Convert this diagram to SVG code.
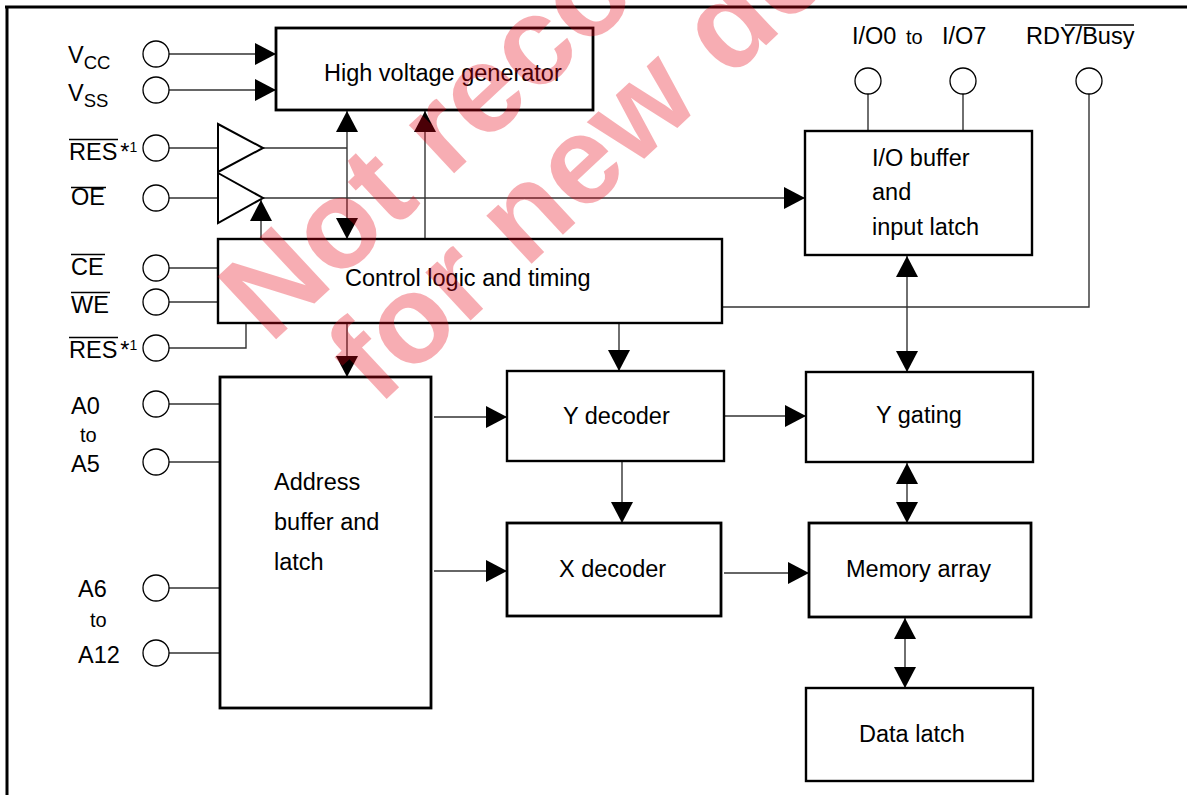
<svg xmlns="http://www.w3.org/2000/svg" width="1187" height="795" viewBox="0 0 1187 795">
<style>
.box{fill:#fff;stroke:#000;stroke-width:2.4}
.thick{stroke-width:2.8}
.thin{fill:#fff;stroke:#000;stroke-width:2}
.pin{fill:#fff;stroke:#000;stroke-width:1.3}
.w{fill:none;stroke:#333;stroke-width:1.4}
.t{font-family:"Liberation Sans",Arial,sans-serif;font-size:23.5px;fill:#000}
.s{font-size:18.5px}
.small{font-size:20px}
.ov{stroke:#000;stroke-width:1.4}
.wm{font-family:"Liberation Sans",Arial,sans-serif;font-weight:bold;font-size:125px;fill:#e60012;fill-opacity:0.32}
</style>
<defs>
<marker id="ah" markerUnits="userSpaceOnUse" markerWidth="22" markerHeight="22" refX="21" refY="11" orient="auto-start-reverse" viewBox="0 0 22 22">
<path d="M0,0 L21,11 L0,22 z" fill="#000"/>
</marker>
</defs>
<g id="frame">
<line x1="5" y1="7" x2="1187" y2="7" stroke="#000" stroke-width="3"/>
<line x1="7" y1="6" x2="7" y2="795" stroke="#000" stroke-width="3"/>
</g>
<g id="connectors">
<line class="w" x1="169" y1="54" x2="276" y2="54" marker-end="url(#ah)"/>
<line class="w" x1="169" y1="90" x2="276" y2="90" marker-end="url(#ah)"/>
<line class="w" x1="169" y1="148" x2="218" y2="148"/>
<line class="w" x1="169" y1="198" x2="218" y2="198"/>
<line class="w" x1="263" y1="148" x2="347" y2="148"/>
<line class="w" x1="347" y1="111" x2="347" y2="239" marker-start="url(#ah)" marker-end="url(#ah)"/>
<line class="w" x1="263" y1="198" x2="805" y2="198" marker-end="url(#ah)"/>
<line class="w" x1="261" y1="239" x2="261" y2="200" marker-end="url(#ah)"/>
<line class="w" x1="425" y1="239" x2="425" y2="111" marker-end="url(#ah)"/>
<line class="w" x1="169" y1="268" x2="218" y2="268"/>
<line class="w" x1="169" y1="302" x2="218" y2="302"/>
<polyline class="w" points="169,348 246,348 246,323"/>
<line class="w" x1="347" y1="323" x2="347" y2="377" marker-end="url(#ah)"/>
<line class="w" x1="619" y1="323" x2="619" y2="371" marker-end="url(#ah)"/>
<polyline class="w" points="1089,94 1089,307 722,307"/>
<line class="w" x1="868" y1="94" x2="868" y2="131"/>
<line class="w" x1="963" y1="94" x2="963" y2="131"/>
<line class="w" x1="907" y1="256" x2="907" y2="372" marker-start="url(#ah)" marker-end="url(#ah)"/>
<line class="w" x1="169" y1="404" x2="220" y2="404"/>
<line class="w" x1="169" y1="462" x2="220" y2="462"/>
<line class="w" x1="169" y1="588" x2="220" y2="588"/>
<line class="w" x1="169" y1="653" x2="220" y2="653"/>
<line class="w" x1="434" y1="417" x2="507" y2="417" marker-end="url(#ah)"/>
<line class="w" x1="434" y1="571" x2="507" y2="571" marker-end="url(#ah)"/>
<line class="w" x1="622" y1="461" x2="622" y2="523" marker-end="url(#ah)"/>
<line class="w" x1="724" y1="416" x2="806" y2="416" marker-end="url(#ah)"/>
<line class="w" x1="724" y1="573" x2="809" y2="573" marker-end="url(#ah)"/>
<line class="w" x1="907" y1="463" x2="907" y2="523" marker-start="url(#ah)" marker-end="url(#ah)"/>
<line class="w" x1="905" y1="618" x2="905" y2="688" marker-start="url(#ah)" marker-end="url(#ah)"/>
</g>
<g id="buf-res">
<polygon class="thin" points="218,124 263,148 218,172"/>
</g>
<g id="buf-oe">
<polygon class="thin" points="218,173 263,198 218,223"/>
</g>
<g id="hv-gen">
<rect class="box thick" x="276" y="28" width="317" height="82"/>
<text class="t" x="324" y="81">High voltage generator</text>
</g>
<g id="control">
<rect class="box" x="218" y="239" width="504" height="84"/>
<text class="t" x="345" y="286">Control logic and timing</text>
</g>
<g id="io-buffer">
<rect class="box" x="805" y="131" width="227" height="124"/>
<text class="t" x="872" y="166">I/O buffer</text>
<text class="t" x="872" y="200">and</text>
<text class="t" x="872" y="235">input latch</text>
</g>
<g id="address">
<rect class="box thick" x="220" y="377" width="211" height="331"/>
<text class="t" x="274" y="490">Address</text>
<text class="t" x="274" y="530">buffer and</text>
<text class="t" x="274" y="570">latch</text>
</g>
<g id="y-decoder">
<rect class="box" x="507" y="371" width="217" height="90"/>
<text class="t" x="563" y="424">Y decoder</text>
</g>
<g id="x-decoder">
<rect class="box thick" x="507" y="523" width="214" height="93"/>
<text class="t" x="559" y="577">X decoder</text>
</g>
<g id="y-gating">
<rect class="box" x="806" y="372" width="227" height="90"/>
<text class="t" x="876" y="423">Y gating</text>
</g>
<g id="memory">
<rect class="box thick" x="809" y="523" width="222" height="94"/>
<text class="t" x="846" y="577">Memory array</text>
</g>
<g id="data-latch">
<rect class="box" x="806" y="688" width="227" height="93"/>
<text class="t" x="859" y="742">Data latch</text>
</g>
<g id="pins">
<circle class="pin" cx="156" cy="54" r="13"/>
<circle class="pin" cx="156" cy="90" r="13"/>
<circle class="pin" cx="156" cy="148" r="13"/>
<circle class="pin" cx="156" cy="198" r="13"/>
<circle class="pin" cx="156" cy="268" r="13"/>
<circle class="pin" cx="156" cy="302" r="13"/>
<circle class="pin" cx="156" cy="348" r="13"/>
<circle class="pin" cx="156" cy="404" r="13"/>
<circle class="pin" cx="156" cy="462" r="13"/>
<circle class="pin" cx="156" cy="588" r="13"/>
<circle class="pin" cx="156" cy="653" r="13"/>
<circle class="pin" cx="868" cy="81" r="13"/>
<circle class="pin" cx="963" cy="81" r="13"/>
<circle class="pin" cx="1089" cy="81" r="13"/>
</g>
<g id="pin-labels">
<text class="t" x="68" y="63">V<tspan class="s" dy="6">CC</tspan></text>
<text class="t" x="68" y="101">V<tspan class="s" dy="6">SS</tspan></text>
<text class="t" x="69" y="160">RES<tspan dx="3">*</tspan><tspan style="font-size:14px" dy="-8">1</tspan></text>
<line class="ov" x1="69" y1="139.5" x2="118" y2="139.5"/>
<text class="t" x="71" y="205">OE</text>
<line class="ov" x1="71" y1="187.5" x2="106" y2="187.5"/>
<text class="t" x="71" y="275">CE</text>
<line class="ov" x1="71" y1="254.5" x2="105" y2="254.5"/>
<text class="t" x="71" y="313">WE</text>
<line class="ov" x1="71" y1="292.5" x2="110" y2="292.5"/>
<text class="t" x="69" y="358">RES<tspan dx="3">*</tspan><tspan style="font-size:14px" dy="-8">1</tspan></text>
<line class="ov" x1="69" y1="337.5" x2="118" y2="337.5"/>
<text class="t" x="71" y="414">A0</text>
<text class="t small" x="80" y="442">to</text>
<text class="t" x="71" y="472">A5</text>
<text class="t" x="78" y="597">A6</text>
<text class="t small" x="90" y="627">to</text>
<text class="t" x="78" y="663">A12</text>
<text class="t" x="852" y="44">I/O0</text>
<text class="t small" x="906" y="44">to</text>
<text class="t" x="942" y="44">I/O7</text>
<text class="t" x="1026" y="44">RDY/Busy</text>
<line class="ov" x1="1065" y1="25" x2="1134" y2="25"/>
</g>
<g id="watermark">
<text class="wm" transform="translate(270,345) rotate(-43)">Not recommended</text>
<text class="wm" transform="translate(378,407) rotate(-43)">for new designs</text>
</g>
</svg>
